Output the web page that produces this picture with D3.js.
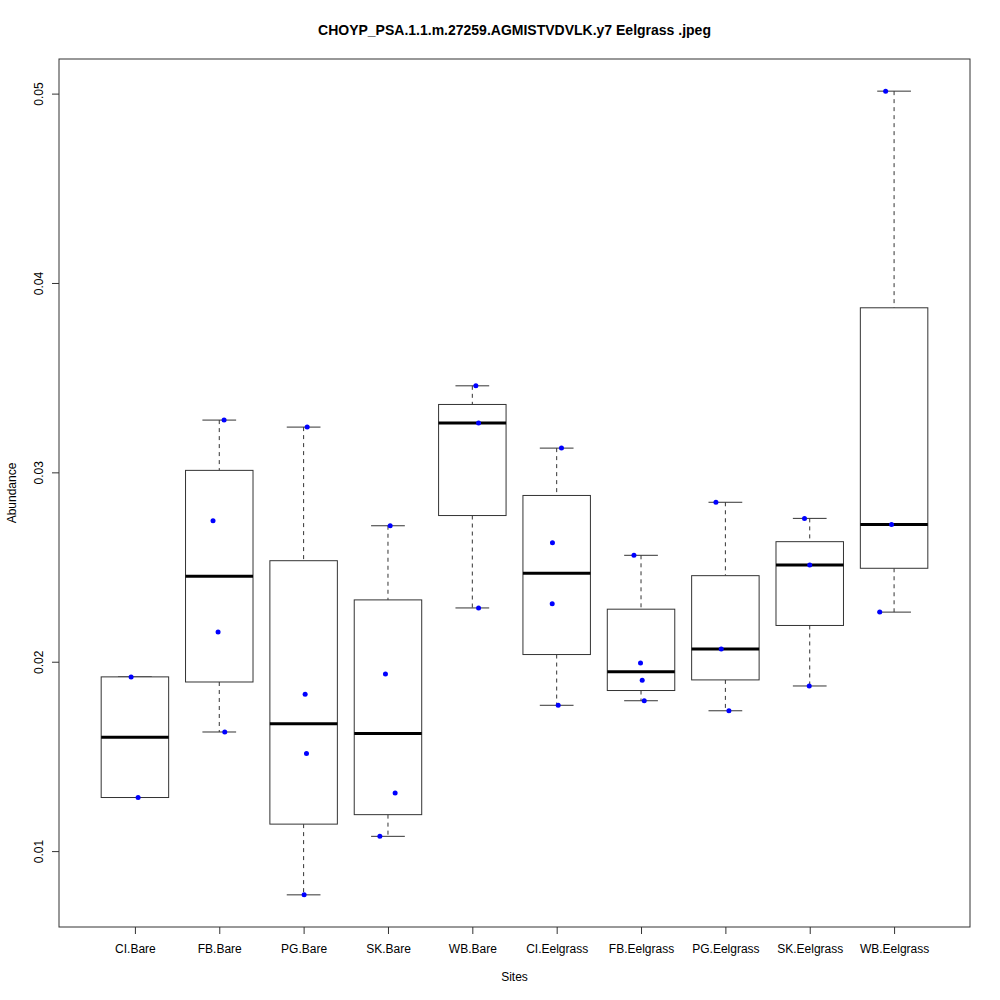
<!DOCTYPE html>
<html>
<head>
<meta charset="utf-8">
<script src="https://cdn.jsdelivr.net/npm/d3@7"></script>
<style>
  body { margin: 0; background: #fff; }
  text { font-family: "Liberation Sans", Arial, sans-serif; fill: #000; }
</style>
</head>
<body>
<div id="chart"></div>
<script>
// Sites along the x axis
var sites = ["CI.Bare", "FB.Bare", "PG.Bare", "SK.Bare", "WB.Bare",
             "CI.Eelgrass", "FB.Eelgrass", "PG.Eelgrass", "SK.Eelgrass", "WB.Eelgrass"];

// Abundance values per site
var abundance = [
    [0.01920, 0.01283],
    [0.03276, 0.02745, 0.02157, 0.01629],
    [0.03239, 0.01828, 0.01516, 0.00769],
    [0.02718, 0.01935, 0.01307, 0.01078],
    [0.03457, 0.03260, 0.02284],
    [0.03128, 0.02628, 0.02306, 0.01770],
    [0.02562, 0.01993, 0.01902, 0.01794],
    [0.02842, 0.02067, 0.01741],
    [0.02757, 0.02511, 0.01872],
    [0.05013, 0.02725, 0.02262]
];

// Horizontal jitter of each point (in site units)
var jitter = [
    [-0.045, 0.038],
    [0.057, -0.074, -0.014, 0.065],
    [0.042, 0.018, 0.034, 0.006],
    [0.026, -0.030, 0.085, -0.096],
    [0.042, 0.074, 0.074],
    [0.057, -0.050, -0.053, 0.018],
    [-0.084, -0.006, 0.014, 0.038],
    [-0.112, -0.049, 0.042],
    [-0.062, 0.000, -0.006],
    [-0.100, -0.030, -0.170]
];

var yTicks = [0.01, 0.02, 0.03, 0.04, 0.05];

var width = 1000, height = 1000;
var mLeft = 59, mRight = 970, mTop = 59, mBottom = 927;

// R style five number summary
function fivenum(arr) {
    var s = arr.slice().sort(d3.ascending);
    var n = s.length;
    var n4 = Math.floor((n + 3) / 2) / 2;
    var d = [1, n4, (n + 1) / 2, n + 1 - n4, n];
    return d.map(function(k) {
        return 0.5 * (s[Math.floor(k) - 1] + s[Math.ceil(k) - 1]);
    });
}

var stats = abundance.map(function(vals) {
    var f = fivenum(vals);
    var iqr = f[3] - f[1];
    var inside = vals.filter(function(v) { return v >= f[1] - 1.5 * iqr && v <= f[3] + 1.5 * iqr; });
    return { q1: f[1], med: f[2], q3: f[3], lo: d3.min(inside), hi: d3.max(inside) };
});

var all = d3.merge(abundance);
var ext = d3.extent(all);
var pad = (ext[1] - ext[0]) * 0.04;

var x = d3.scaleLinear().domain([0.1, sites.length + 0.9]).range([mLeft, mRight]);
var y = d3.scaleLinear().domain([ext[0] - pad, ext[1] + pad]).range([mBottom, mTop]);

var svg = d3.select("#chart")
    .append("svg")
    .attr("width", width)
    .attr("height", height);

var unit = x(2) - x(1);
var boxW = unit * 0.8;
var stapleW = boxW * 0.5;

// Boxes
var g = svg.selectAll("g.box")
    .data(stats)
    .enter()
    .append("g")
    .attr("class", "box");

// whiskers (dashed)
g.append("line")
    .attr("x1", function(d, i) { return x(i + 1); })
    .attr("x2", function(d, i) { return x(i + 1); })
    .attr("y1", function(d) { return y(d.hi); })
    .attr("y2", function(d) { return y(d.q3); })
    .attr("stroke", "#333").attr("stroke-dasharray", "4,4");
g.append("line")
    .attr("x1", function(d, i) { return x(i + 1); })
    .attr("x2", function(d, i) { return x(i + 1); })
    .attr("y1", function(d) { return y(d.q1); })
    .attr("y2", function(d) { return y(d.lo); })
    .attr("stroke", "#333").attr("stroke-dasharray", "4,4");

// staples
g.append("line")
    .attr("x1", function(d, i) { return x(i + 1) - stapleW / 2; })
    .attr("x2", function(d, i) { return x(i + 1) + stapleW / 2; })
    .attr("y1", function(d) { return y(d.hi); })
    .attr("y2", function(d) { return y(d.hi); })
    .attr("stroke", "#333");
g.append("line")
    .attr("x1", function(d, i) { return x(i + 1) - stapleW / 2; })
    .attr("x2", function(d, i) { return x(i + 1) + stapleW / 2; })
    .attr("y1", function(d) { return y(d.lo); })
    .attr("y2", function(d) { return y(d.lo); })
    .attr("stroke", "#333");

g.append("rect")
    .attr("x", function(d, i) { return x(i + 1) - boxW / 2; })
    .attr("y", function(d) { return y(d.q3); })
    .attr("width", boxW)
    .attr("height", function(d) { return y(d.q1) - y(d.q3); })
    .attr("fill", "#fff")
    .attr("stroke", "#333");

// median
g.append("line")
    .attr("x1", function(d, i) { return x(i + 1) - boxW / 2; })
    .attr("x2", function(d, i) { return x(i + 1) + boxW / 2; })
    .attr("y1", function(d) { return y(d.med); })
    .attr("y2", function(d) { return y(d.med); })
    .attr("stroke", "#000")
    .attr("stroke-width", 3);

// Points
abundance.forEach(function(vals, i) {
    svg.selectAll("circle.s" + i)
        .data(vals)
        .enter()
        .append("circle")
        .attr("class", "s" + i)
        .attr("cx", function(d, j) { return x(i + 1 + jitter[i][j]); })
        .attr("cy", function(d) { return y(d); })
        .attr("r", 2.5)
        .attr("fill", "#0000ff");
});

// Plot frame
svg.append("rect")
    .attr("x", mLeft).attr("y", mTop)
    .attr("width", mRight - mLeft).attr("height", mBottom - mTop)
    .attr("fill", "none").attr("stroke", "#333");

// Y axis
var yAxis = svg.append("g")
    .attr("transform", "translate(" + mLeft + ",0)")
    .call(d3.axisLeft(y).tickValues(yTicks).tickSize(7).tickSizeOuter(0).tickFormat(d3.format(".2f")));
yAxis.select(".domain").remove();
yAxis.selectAll("line").attr("stroke", "#333");
yAxis.selectAll("text")
    .attr("x", 0).attr("dy", 0)
    .attr("transform", "translate(-16,0) rotate(-90)")
    .attr("text-anchor", "middle")
    .style("font-size", "12px")
    .style("font-family", "Liberation Sans, Arial, sans-serif");

// X axis
var xAxis = svg.append("g")
    .attr("transform", "translate(0," + mBottom + ")")
    .call(d3.axisBottom(x).tickValues(d3.range(1, sites.length + 1)).tickSize(7).tickSizeOuter(0)
        .tickFormat(function(d) { return sites[d - 1]; }));
xAxis.select(".domain").remove();
xAxis.selectAll("line").attr("stroke", "#333");
xAxis.selectAll("text")
    .attr("y", 26).attr("dy", 0)
    .style("font-size", "12px")
    .style("font-family", "Liberation Sans, Arial, sans-serif");

// Titles
svg.append("text")
    .attr("x", (mLeft + mRight) / 2)
    .attr("y", 35)
    .attr("text-anchor", "middle")
    .style("font-size", "14px")
    .style("font-weight", "bold")
    .text("CHOYP_PSA.1.1.m.27259.AGMISTVDVLK.y7 Eelgrass .jpeg");

svg.append("text")
    .attr("x", (mLeft + mRight) / 2)
    .attr("y", 981)
    .attr("text-anchor", "middle")
    .style("font-size", "12px")
    .text("Sites");

svg.append("text")
    .attr("transform", "translate(16," + (mTop + mBottom) / 2 + ") rotate(-90)")
    .attr("text-anchor", "middle")
    .style("font-size", "12px")
    .text("Abundance");
</script>
</body>
</html>
